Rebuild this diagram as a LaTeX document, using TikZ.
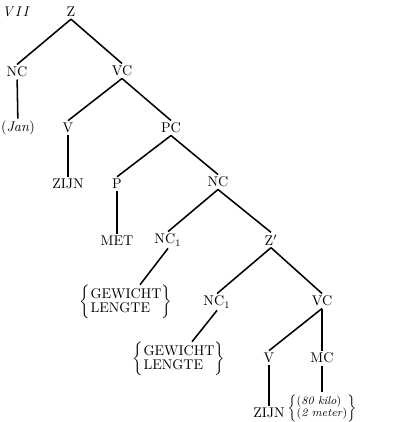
\documentclass[tikz,border=0pt]{standalone}
\usepackage{amsmath}
\usetikzlibrary{positioning,calc}

\begin{document}
\begin{tikzpicture}[x=0.025cm,y=-0.025cm,
    cat/.style={inner sep=1.5pt},
    leaf/.style={inner sep=1.5pt},
    branch/.style={line width=1.1pt}]
    \useasboundingbox (0,0) rectangle (400,422);
    \node[anchor=west,inner sep=0pt] (num) at (2,12) {\textit{V\,I\,I}};

    % top of the tree
    \node[cat] (z) at (71,12) {Z};
    \node[cat] (nc) at (17,72) {NC};
    \node[cat] (vc) at (122,71) {VC};
    \node[leaf] (jan) at (18,128) {(\textit{Jan})};
    \node[cat] (v) at (68,128) {V};
    \node[cat] (pc) at (171,128) {PC};
    \node[leaf] (zijn) at (68,184) {ZIJN};
    \node[cat] (p) at (117,184) {P};
    \node[cat] (ncb) at (218,182) {NC};
    \node[leaf] (met) at (117,241) {MET};
    \node[cat] (nca) at (168,240) {NC$_1$};
    \node[cat] (zs) at (271,240) {Z$'$};

    % embedded clause
    \node[leaf] (dima) at (126,302)
        {$\left\{\begin{array}{@{}l@{}}\text{GEWICHT}\\[-2pt]\text{LENGTE}\end{array}\right\}$};
    \node[cat] (ncc) at (217,302) {NC$_1$};
    \node[cat] (vcb) at (322,301) {VC};
    \node[leaf] (dimb) at (179,359)
        {$\left\{\begin{array}{@{}l@{}}\text{GEWICHT}\\[-2pt]\text{LENGTE}\end{array}\right\}$};
    \node[cat] (vb) at (269,358) {V};
    \node[cat] (mc) at (322,358) {MC};
    \node[leaf] (zijnb) at (269,413) {ZIJN};
    \node[leaf,font=\footnotesize] (amt) at (322,408)
        {$\left\{\begin{array}{@{}l@{}}\text{(\textit{80 kilo})}\\[-1pt]\text{(\textit{2 meter})}\end{array}\right\}$};

    \draw[branch] (z.south)--(nc.north);
    \draw[branch] (z.south)--(vc.north);
    \draw[branch] (nc)--(jan);
    \draw[branch] (vc.south)--(v.north);
    \draw[branch] (vc.south)--(pc.north);
    \draw[branch] (v)--(zijn);
    \draw[branch] (pc.south)--(p.north);
    \draw[branch] (pc.south)--(ncb.north);
    \draw[branch] (p)--(met);
    \draw[branch] (ncb.south)--(nca.north);
    \draw[branch] (ncb.south)--(zs.north);
    \draw[branch] (nca.south)--($(dima.north)+(14,2)$);
    \draw[branch] (zs.south)--(ncc.north);
    \draw[branch] (zs.south)--(vcb.north);
    \draw[branch] (ncc.south)--($(dimb.north)+(13,2)$);
    \draw[branch] (vcb.south)--(vb.north);
    \draw[branch] (vcb.south)--(mc.north);
    \draw[branch] (vb)--(zijnb);
    \draw[branch] (mc)--(amt);
\end{tikzpicture}
\end{document}
